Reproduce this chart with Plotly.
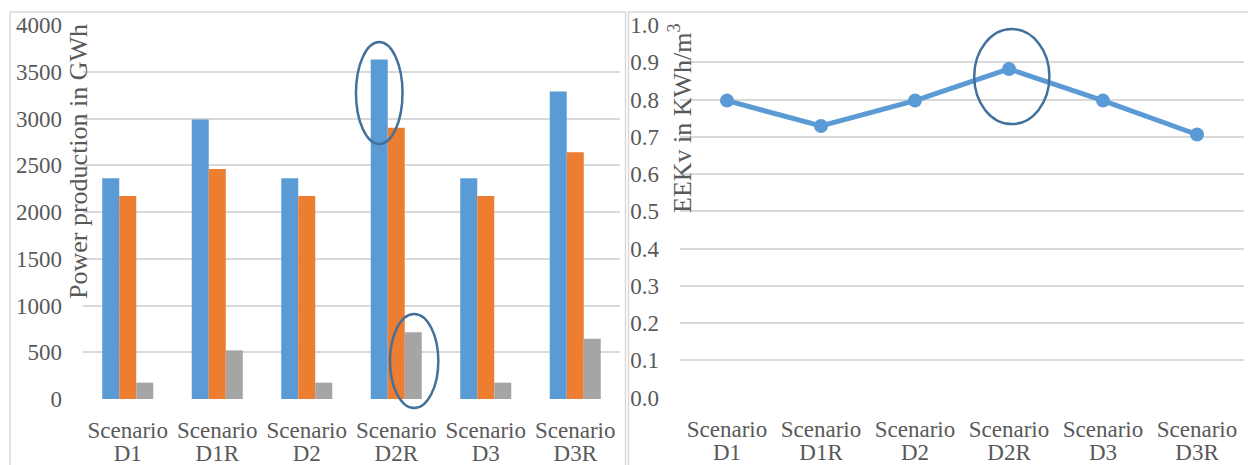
import plotly.graph_objects as go

W, H = 1248, 465

scenarios = ["Scenario D1", "Scenario D1R", "Scenario D2", "Scenario D2R", "Scenario D3", "Scenario D3R"]
tick_lines = [("Scenario", "D1"), ("Scenario", "D1R"), ("Scenario", "D2"),
              ("Scenario", "D2R"), ("Scenario", "D3"), ("Scenario", "D3R")]

# power production (GWh), three series per scenario
series_blue = [2360, 2990, 2360, 3630, 2360, 3290]
series_orange = [2170, 2460, 2170, 2900, 2170, 2640]
series_gray = [175, 520, 175, 715, 175, 645]

# EEKv (KWh/m3)
eekv = [0.797, 0.729, 0.797, 0.882, 0.797, 0.706]

FONT = "Liberation Serif"
TXT = "#595959"
GRID = "#d9d9d9"
RING = "#41719c"

# tighter line spacing than plotly's default: small base font, bigger span
tick_text = ['<span style="font-size:23px">%s</span><br><span style="font-size:23px">%s</span>' % t
             for t in tick_lines]


def px_x(p):
    return p / W


def px_y(p):
    return 1 - p / H


fig = go.Figure()

for vals, col in [(series_blue, "#5b9bd5"), (series_orange, "#ed7d31"), (series_gray, "#a5a5a5")]:
    fig.add_trace(go.Bar(x=scenarios, y=vals, marker=dict(color=col, line=dict(width=0)),
                         xaxis="x", yaxis="y", showlegend=False))

fig.add_trace(go.Scatter(x=scenarios, y=eekv, mode="lines+markers",
                         line=dict(color="#5b9bd5", width=5),
                         marker=dict(color="#5b9bd5", size=14),
                         xaxis="x2", yaxis="y2", showlegend=False))

ytick_font = dict(family=FONT, size=23, color=TXT)
xtick_font = dict(family=FONT, size=18, color=TXT)

fig.update_layout(
    width=W, height=H,
    margin=dict(l=0, r=0, t=0, b=0, autoexpand=False),
    font=dict(family=FONT, color=TXT),
    paper_bgcolor="white", plot_bgcolor="white",
    barmode="group", bargap=0.43, bargroupgap=0,
    xaxis=dict(domain=[px_x(83), px_x(620)], type="category", automargin=False,
               range=[-0.5, 5.5],
               tickvals=scenarios, ticktext=tick_text, tickfont=xtick_font,
               showgrid=False, showline=False, ticks="", ticklabelstandoff=20),
    yaxis=dict(domain=[px_y(399), px_y(25)], range=[0, 4000], dtick=500, automargin=False,
               showgrid=True, gridcolor=GRID, gridwidth=1.5, zeroline=False,
               tickfont=ytick_font, ticks="", ticklabelstandoff=20),
    xaxis2=dict(domain=[px_x(680), px_x(1244)], type="category", anchor="y2", automargin=False,
                range=[-0.5, 5.5],
                tickvals=scenarios, ticktext=tick_text, tickfont=xtick_font,
                showgrid=False, showline=False, ticks="", ticklabelstandoff=20),
    yaxis2=dict(domain=[px_y(397.5), px_y(25)], range=[0, 1.0], dtick=0.1,
                tickformat=".1f", anchor="x2", automargin=False,
                showgrid=True, gridcolor=GRID, gridwidth=1.5, zeroline=False,
                tickfont=ytick_font, ticks="", ticklabelstandoff=20),
)

# axis titles sit toward the top of each panel, as in the source
fig.add_annotation(text="Power production in GWh", textangle=-90, showarrow=False,
                   xref="paper", yref="paper", x=px_x(78), y=px_y(162),
                   xanchor="center", yanchor="middle",
                   font=dict(family=FONT, size=26, color=TXT))
fig.add_annotation(text="EEKv in KWh/m<sup>3</sup>", textangle=-90, showarrow=False,
                   xref="paper", yref="paper", x=px_x(680), y=px_y(118),
                   xanchor="center", yanchor="middle",
                   font=dict(family=FONT, size=26, color=TXT))

# panel frames
for x0, x1 in [(10, 625.5), (628.5, 1300)]:
    fig.add_shape(type="rect", xref="paper", yref="paper",
                  x0=px_x(x0), x1=px_x(x1), y0=-0.2, y1=px_y(12),
                  line=dict(color=GRID, width=1.5), layer="below")

# highlight rings
fig.add_shape(type="circle", xref="x", yref="y", x0=2.55, x1=3.07, y0=2727, y1=3818,
              line=dict(color=RING, width=2.5))
# this one dips below the axis, so place it vertically in paper space (no clipping)
fig.add_shape(type="circle", xref="x", yref="paper", x0=2.93, x1=3.47,
              y0=px_y(408), y1=px_y(314),
              line=dict(color=RING, width=2.5))
fig.add_shape(type="circle", xref="x2", yref="y2", x0=2.63, x1=3.43, y0=0.734, y1=0.989,
              line=dict(color=RING, width=2.5))

fig.write_html("out.html", config={"displayModeBar": False},
               post_script="document.body.style.margin='0';")
